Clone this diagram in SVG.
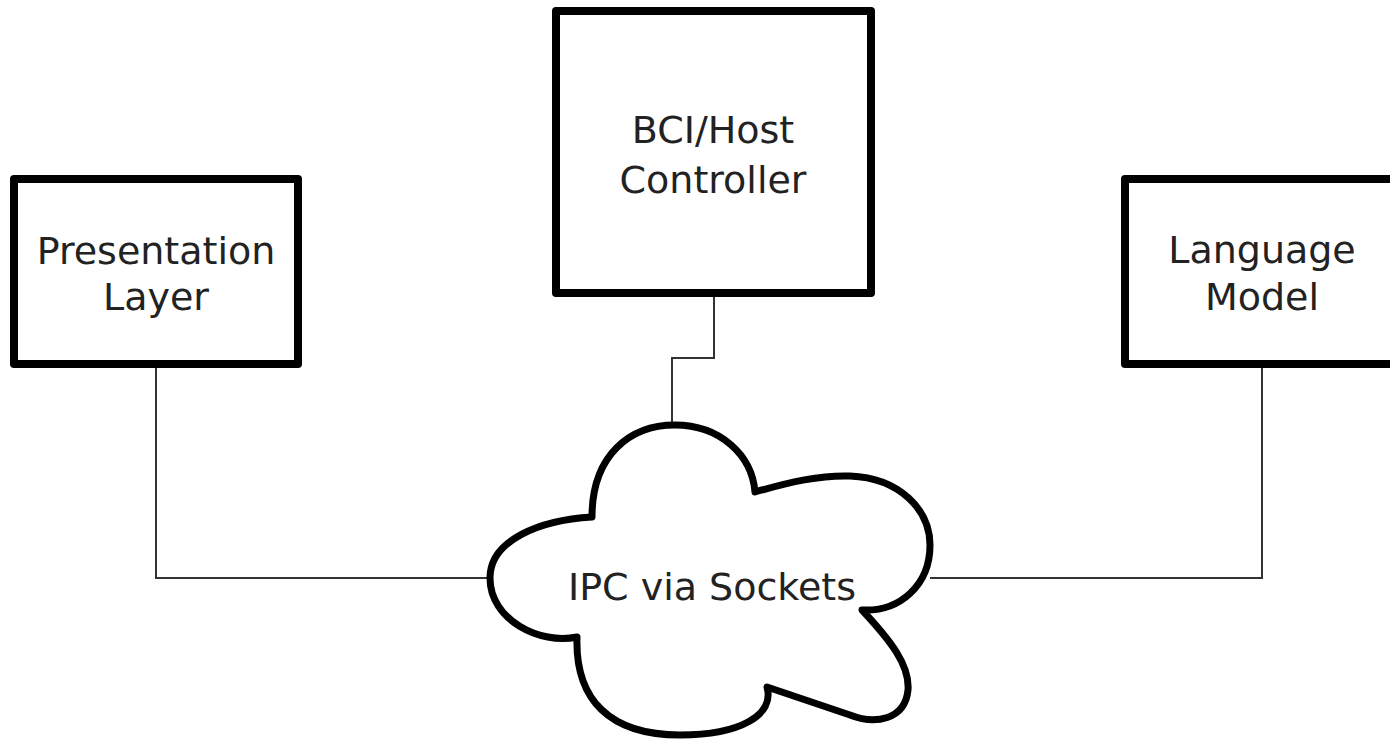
<svg xmlns="http://www.w3.org/2000/svg" width="1390" height="739" viewBox="0 0 1390 739">
<style>
.box{fill:#fff;stroke:#000;stroke-width:8;stroke-linejoin:round}
.cloud{fill:#fff;stroke:#000;stroke-width:7;stroke-linejoin:round}
.lbl{font-family:"DejaVu Sans",sans-serif;font-size:38px;fill:#222;text-anchor:middle}
.conn{fill:none;stroke:#333;stroke-width:2}
</style>
<rect width="1390" height="739" fill="#fff"/>
<g id="connectors">
<polyline class="conn" points="156,364 156,578 490,578"/>
<polyline class="conn" points="1262,364 1262,578 930,578"/>
<polyline class="conn" points="714,293 714,358 672,358 672,426"/>
</g>
<g id="presentation">
<rect class="box" x="14" y="179" width="284" height="185"/>
<text class="lbl" x="156" y="264">Presentation</text>
<text class="lbl" x="156" y="310">Layer</text>
</g>
<g id="bci">
<rect class="box" x="556" y="11" width="315" height="282"/>
<text class="lbl" x="713" y="143">BCI/Host</text>
<text class="lbl" x="713" y="193">Controller</text>
</g>
<g id="language">
<rect class="box" x="1125" y="179" width="274" height="185"/>
<text class="lbl" x="1262" y="263">Language</text>
<text class="lbl" x="1262" y="310">Model</text>
</g>
<g id="ipc">
<path class="cloud" d="M 592 517 C 592 455, 630 425, 675 425 C 720 425, 752 455, 755 492 C 790 482, 820 475, 850 476 C 900 478, 930 510, 930 545 C 930 585, 900 612, 862 610 C 890 640, 910 665, 908 690 C 905 720, 875 725, 850 715 C 820 705, 790 695, 767 687 C 775 715, 740 735, 680 735 C 610 735, 575 700, 577 637 C 540 645, 490 620, 490 578 C 490 540, 540 520, 592 517 Z"/>
<text class="lbl" x="712" y="600">IPC via Sockets</text>
</g>
</svg>
